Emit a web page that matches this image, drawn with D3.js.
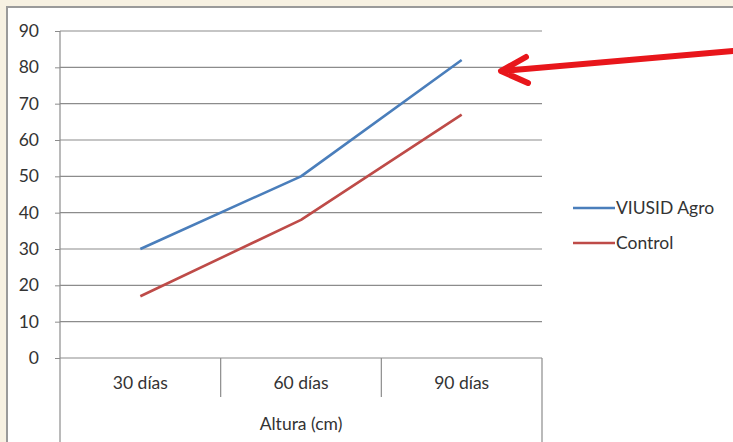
<!DOCTYPE html>
<html>
<head>
<meta charset="utf-8">
<script src="https://cdn.jsdelivr.net/npm/d3@7"></script>
<style>
  body { margin: 0; background: #f7f1e2; }
  svg { display: block; }
  text { font-family: Lato, "Open Sans", sans-serif; fill: #333; }
</style>
</head>
<body>
<svg width="733" height="442"></svg>
<script>
// chart data
const categories = ['30 días', '60 días', '90 días'];
const viusidValues = [30, 50, 82];
const controlValues = [17, 38, 67];
const yTicks = [0, 10, 20, 30, 40, 50, 60, 70, 80, 90];
const seriesNames = ['VIUSID Agro', 'Control'];
const seriesColors = ['#4a7ebb', '#be4b48'];
const axisTitle = 'Altura (cm)';

const fontSize = '17.5px';
const svg = d3.select('svg');

// white chart area with grey frame
svg.append('rect')
    .attr('x', 7).attr('y', 7)
    .attr('width', 740).attr('height', 450)
    .attr('fill', '#fff')
    .attr('stroke', '#9a9a9a')
    .attr('stroke-width', 2);

const plot = { left: 60, right: 542, top: 31, bottom: 358 };

const y = d3.scaleLinear().domain([0, 90]).range([plot.bottom, plot.top]);
const x = d3.scaleBand().domain(categories).range([plot.left, plot.right]);

// horizontal gridlines
svg.append('g')
    .selectAll('line')
    .data(yTicks)
    .join('line')
    .attr('x1', plot.left).attr('x2', plot.right)
    .attr('y1', d => y(d)).attr('y2', d => y(d))
    .attr('stroke', '#8c8c8c')
    .attr('stroke-width', 1.2);

// y axis
const yAxis = svg.append('g')
    .attr('transform', `translate(${plot.left},0)`)
    .call(d3.axisLeft(y).tickValues(yTicks).tickSize(5).tickPadding(16));
yAxis.select('.domain').remove();
yAxis.selectAll('.tick line').attr('stroke', '#8c8c8c');
yAxis.selectAll('.tick text').style('font-size', fontSize).attr('fill', '#333');

// vertical axis line runs to the bottom of the frame
svg.append('line')
    .attr('x1', plot.left).attr('x2', plot.left)
    .attr('y1', plot.top).attr('y2', 442)
    .attr('stroke', '#8c8c8c').attr('stroke-width', 1.2);
svg.append('line')
    .attr('x1', plot.right).attr('x2', plot.right)
    .attr('y1', plot.bottom).attr('y2', 442)
    .attr('stroke', '#8c8c8c').attr('stroke-width', 1.2);

// category separators
svg.append('g')
    .selectAll('line')
    .data(categories.slice(1))
    .join('line')
    .attr('x1', d => x(d)).attr('x2', d => x(d))
    .attr('y1', plot.bottom).attr('y2', 397)
    .attr('stroke', '#8c8c8c').attr('stroke-width', 1.2);

// category labels
const xAxis = svg.append('g')
    .attr('transform', `translate(0,${plot.bottom})`)
    .call(d3.axisBottom(x).tickSize(0).tickPadding(19));
xAxis.select('.domain').remove();
xAxis.selectAll('.tick text').style('font-size', fontSize).attr('fill', '#333');

svg.append('text')
    .attr('x', (plot.left + plot.right) / 2)
    .attr('y', 430)
    .attr('text-anchor', 'middle')
    .style('font-size', fontSize)
    .text(axisTitle);

// series lines
const line = d3.line()
    .x((d, i) => x(categories[i]) + x.bandwidth() / 2)
    .y(d => y(d));

[viusidValues, controlValues].forEach((vals, i) => {
    svg.append('path')
        .datum(vals)
        .attr('d', line)
        .attr('fill', 'none')
        .attr('stroke', seriesColors[i])
        .attr('stroke-width', 2.6)
        .attr('stroke-linejoin', 'round');
});

// legend
const legend = svg.append('g')
    .selectAll('g')
    .data(seriesNames)
    .join('g')
    .attr('transform', (d, i) => `translate(573,${208 + i * 35})`);
legend.append('line')
    .attr('x1', 0).attr('x2', 42)
    .attr('stroke', (d, i) => seriesColors[i])
    .attr('stroke-width', 2.6);
legend.append('text')
    .attr('x', 43).attr('y', 6)
    .style('font-size', fontSize)
    .text(d => d);

// red annotation arrow
svg.append('path')
    .attr('d', 'M733,51 L502,71 M526,57 L501,71 L528,83')
    .attr('fill', 'none')
    .attr('stroke', '#e8161b')
    .attr('stroke-width', 6)
    .attr('stroke-linecap', 'round')
    .attr('stroke-linejoin', 'round');
</script>
</body>
</html>
